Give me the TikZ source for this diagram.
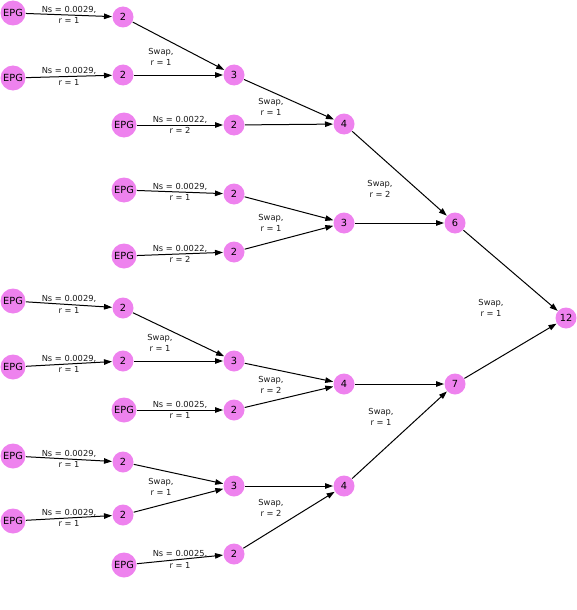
\documentclass[tikz,border=0pt]{standalone}
\usepackage{fontspec}
\setmainfont{DejaVu Sans}
\usetikzlibrary{arrows.meta}
\definecolor{nodeviolet}{RGB}{238,130,238}
\begin{document}
\begin{tikzpicture}[
    x=1pt, y=-1pt,
    >={Triangle[length=8pt,width=5.5pt]}, line width=1pt,
    every node/.style={font=\fontsize{9.8}{11}\selectfont},
    epg/.style={circle, fill=nodeviolet, minimum size=25pt, inner sep=0pt},
    merged/.style={circle, fill=nodeviolet, minimum size=21pt, inner sep=0pt},
    edgelab/.style={font=\fontsize{8.3}{11.5}\selectfont, align=center, inner sep=0pt, text=black!90}
]
\useasboundingbox (0,0) rectangle (577,610);
\node[merged] (root) at (566,318) {12};
\node[merged] (sixA) at (455,223) {6};
\node[merged] (sevenA) at (455,384) {7};
\node[merged] (fourA) at (344,124) {4};
\node[merged] (threeB) at (344,223) {3};
\node[merged] (fourB) at (344,384) {4};
\node[merged] (fourC) at (344,486) {4};
\node[merged] (threeA) at (234,75) {3};
\node[merged] (twoC) at (234,125) {2};
\node[merged] (twoD) at (234,194) {2};
\node[merged] (twoE) at (234,252) {2};
\node[merged] (threeC) at (234,361) {3};
\node[merged] (twoH) at (234,410) {2};
\node[merged] (threeD) at (234,486) {3};
\node[merged] (twoK) at (234,554) {2};
\node[merged] (twoA) at (123,17) {2};
\node[merged] (twoB) at (123,75) {2};
\node[merged] (twoF) at (123,308) {2};
\node[merged] (twoG) at (123,361) {2};
\node[merged] (twoI) at (123,462) {2};
\node[merged] (twoJ) at (123,515) {2};
\node[epg] (epgA) at (13,13) {EPG};
\node[epg] (epgB) at (13,78) {EPG};
\node[epg] (epgC) at (124,125) {EPG};
\node[epg] (epgD) at (124,190) {EPG};
\node[epg] (epgE) at (124,256) {EPG};
\node[epg] (epgF) at (13,301) {EPG};
\node[epg] (epgG) at (13,367) {EPG};
\node[epg] (epgH) at (124,410) {EPG};
\node[epg] (epgI) at (13,456) {EPG};
\node[epg] (epgJ) at (13,521) {EPG};
\node[epg] (epgK) at (124,565) {EPG};
\draw[->] (epgA) -- node[edgelab, midway] {Ns = 0.0029,\\r = 1} (twoA);
\draw[->] (epgB) -- node[edgelab, midway] {Ns = 0.0029,\\r = 1} (twoB);
\draw[->] (epgC) -- node[edgelab, midway] {Ns = 0.0022,\\r = 2} (twoC);
\draw[->] (epgD) -- node[edgelab, midway] {Ns = 0.0029,\\r = 1} (twoD);
\draw[->] (epgE) -- node[edgelab, midway] {Ns = 0.0022,\\r = 2} (twoE);
\draw[->] (epgF) -- node[edgelab, midway] {Ns = 0.0029,\\r = 1} (twoF);
\draw[->] (epgG) -- node[edgelab, midway] {Ns = 0.0029,\\r = 1} (twoG);
\draw[->] (epgH) -- node[edgelab, midway] {Ns = 0.0025,\\r = 1} (twoH);
\draw[->] (epgI) -- node[edgelab, midway] {Ns = 0.0029,\\r = 1} (twoI);
\draw[->] (epgJ) -- node[edgelab, midway] {Ns = 0.0029,\\r = 1} (twoJ);
\draw[->] (epgK) -- node[edgelab, midway] {Ns = 0.0025,\\r = 1} (twoK);
\draw[->] (twoA) -- (threeA);
\draw[->] (twoB) -- (threeA);
\draw[->] (threeA) -- (fourA);
\draw[->] (twoC) -- (fourA);
\draw[->] (twoD) -- (threeB);
\draw[->] (twoE) -- (threeB);
\draw[->] (fourA) -- (sixA);
\draw[->] (threeB) -- (sixA);
\draw[->] (sixA) -- (root);
\draw[->] (twoF) -- (threeC);
\draw[->] (twoG) -- (threeC);
\draw[->] (threeC) -- (fourB);
\draw[->] (twoH) -- (fourB);
\draw[->] (twoI) -- (threeD);
\draw[->] (twoJ) -- (threeD);
\draw[->] (threeD) -- (fourC);
\draw[->] (twoK) -- (fourC);
\draw[->] (fourB) -- (sevenA);
\draw[->] (fourC) -- (sevenA);
\draw[->] (sevenA) -- (root);
\node[edgelab] (swapA) at (161,57) {Swap,\\r = 1};
\node[edgelab] (swapB) at (271,107) {Swap,\\r = 1};
\node[edgelab] (swapC) at (271,223) {Swap,\\r = 1};
\node[edgelab] (swapD) at (380,189) {Swap,\\r = 2};
\node[edgelab] (swapE) at (491,308) {Swap,\\r = 1};
\node[edgelab] (swapF) at (160,343) {Swap,\\r = 1};
\node[edgelab] (swapG) at (271,385) {Swap,\\r = 2};
\node[edgelab] (swapH) at (381,417) {Swap,\\r = 1};
\node[edgelab] (swapI) at (161,487) {Swap,\\r = 1};
\node[edgelab] (swapJ) at (271,508) {Swap,\\r = 2};
\end{tikzpicture}
\end{document}
